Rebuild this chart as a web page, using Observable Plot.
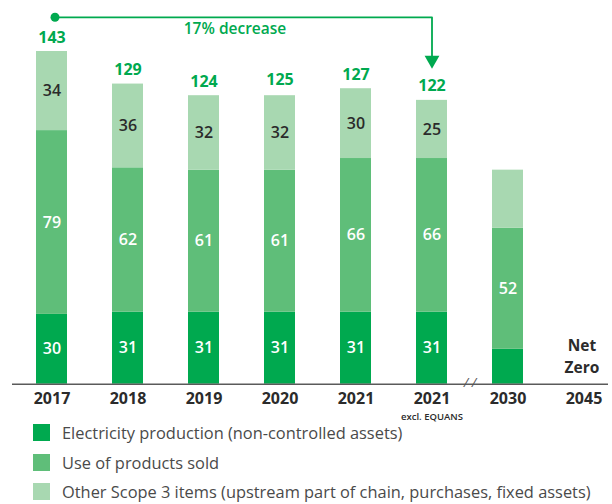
<!DOCTYPE html>
<html>
<head>
<meta charset="utf-8">
<script src="https://cdn.jsdelivr.net/npm/d3@7"></script>
<script src="https://cdn.jsdelivr.net/npm/@observablehq/plot@0.6"></script>
<style>
  body { margin: 0; background: #fff; font-family: "Open Sans", sans-serif; width: 612px; height: 504px; overflow: hidden; }
  #legend { margin: 0; padding: 0; }
  .row { height: 29.5px; display: flex; align-items: center; }
  .sw { width: 17px; height: 17px; margin-left: 33px; margin-right: 12px; flex: none; }
  .lab { font-size: 16.4px; color: #4a4a4a; white-space: nowrap; }
  svg { overflow: visible; }
</style>
</head>
<body>
<div id="chart"></div>
<div id="legend"></div>
<script>
// ---- data ----
const categories = ["2017", "2018", "2019", "2020", "2021", "2021ex", "2030", "2045"];
const tickLabels = ["2017", "2018", "2019", "2020", "2021", "2021", "2030", "2045"];
const seriesNames = [
  "Electricity production (non-controlled assets)",
  "Use of products sold",
  "Other Scope 3 items (upstream part of chain, purchases, fixed assets)"
];
const seriesColors = ["#00a94f", "#5fbe79", "#a8d8b1"];
const electricity = [30, 31, 31, 31, 31, 31, 15, 0];
const useOfProducts = [79, 62, 61, 61, 66, 66, 52, 0];
const otherScope3 = [34, 36, 32, 32, 30, 25, 25, 0];
const electricityLabels = ["30", "31", "31", "31", "31", "31", "", ""];
const useOfProductsLabels = ["79", "62", "61", "61", "66", "66", "52", ""];
const otherScope3Labels = ["34", "36", "32", "32", "30", "25", "", ""];
const totals = [143, 129, 124, 125, 127, 122, null, null];
const subLabelCat = "2021ex";
const subLabel = "excl. EQUANS";
const netZeroCat = "2045";
const netZeroLines = ["Net", "Zero"];
// decrease annotation (arrow from 2017 to 2021 excl. EQUANS)
const arrowCats = ["2017", "2021ex", "2021ex"];
const arrowValues = [157.7, 157.7, 140.5];
const arrowHeadValue = 139.3;
const annotationText = "17% decrease";
const annotationCat = "2019";
const annotationValue = 152.5;

// ---- build tables ----
const seriesValues = [electricity, useOfProducts, otherScope3];
const seriesLabels = [electricityLabels, useOfProductsLabels, otherScope3Labels];
const rows = [];
categories.forEach((c, i) => {
  seriesNames.forEach((s, k) => {
    rows.push({cat: c, series: s, k, value: seriesValues[k][i], label: seriesLabels[k][i]});
  });
});
const totalRows = categories.map((c, i) => ({cat: c, total: totals[i]})).filter(d => d.total != null);
const arrowPts = arrowCats.map((c, i) => ({cat: c, v: arrowValues[i]}));

const green = "#00a94f";
const font = "'Open Sans', sans-serif";

const chart = Plot.plot({
  width: 612,
  height: 418,
  marginLeft: 12,
  marginRight: 4,
  marginTop: 0,
  marginBottom: 0,
  style: {fontFamily: font, background: "#fff", overflow: "visible"},
  x: {domain: categories, range: [10.15, 623.75], paddingInner: 0.595, paddingOuter: 0.2975, axis: null},
  y: {domain: [0, 143], range: [383.7, 51], axis: null},
  color: {domain: seriesNames, range: seriesColors},
  marks: [
    Plot.barY(rows, {x: "cat", y: "value", fill: "series", order: null}),
    ...[0, 1, 2].map(k => Plot.text(rows, Plot.stackY({
      x: "cat", y: "value", z: "series", order: null,
      text: d => d.k === k ? d.label : "",
      fill: k === 2 ? "#2b2b2b" : "#ffffff",
      fontSize: 16, fontWeight: 600
    }))),
    Plot.text(totalRows, {x: "cat", y: "total", text: d => String(d.total), dy: -14, fill: green, fontSize: 16, fontWeight: 700}),
    Plot.ruleY([0], {stroke: "#5a5a5a", strokeWidth: 1.6}),
    Plot.text(categories, {x: d => d, y: () => 0, text: (d, i) => tickLabels[i], dy: 15, fontSize: 16, fontWeight: 700, fill: "#2b2b2b"}),
    Plot.text([subLabelCat], {x: d => d, y: () => 0, text: () => subLabel, dy: 32.5, fontSize: 9.5, fontWeight: 600, fill: "#2b2b2b"}),
    Plot.text([netZeroCat], {x: d => d, y: () => 0, text: () => netZeroLines[0], dy: -38, dx: -2, fontSize: 15.5, fontWeight: 700, fill: "#2b2b2b"}),
    Plot.text([netZeroCat], {x: d => d, y: () => 0, text: () => netZeroLines[1], dy: -16.5, dx: -2, fontSize: 15.5, fontWeight: 700, fill: "#2b2b2b"}),
    Plot.text(["2021ex"], {x: d => d, y: () => 0, text: () => "/ /", dx: 38, dy: -1, fontSize: 13, fill: "#555", fontStyle: "italic"}),
    Plot.line(arrowPts, {x: "cat", y: "v", stroke: green, strokeWidth: 1.8}),
    Plot.dot([arrowPts[0]], {x: "cat", y: "v", r: 4.5, fill: green, dx: 3}),
    Plot.dot([{cat: "2021ex", v: arrowHeadValue}], {x: "cat", y: "v", symbol: "triangle", rotate: 180, r: 5.5, fill: green, stroke: "none"}),
    Plot.text([{cat: annotationCat, v: annotationValue}], {x: "cat", y: "v", text: () => annotationText, dx: 31, fontSize: 15.5, fontWeight: 600, fill: green})
  ]
});
document.getElementById("chart").appendChild(chart);

// legend
const legend = document.getElementById("legend");
seriesNames.forEach((s, k) => {
  const row = document.createElement("div");
  row.className = "row";
  const sw = document.createElement("div");
  sw.className = "sw";
  sw.style.background = seriesColors[k];
  const lab = document.createElement("div");
  lab.className = "lab";
  lab.textContent = s;
  row.appendChild(sw);
  row.appendChild(lab);
  legend.appendChild(row);
});
</script>
</body>
</html>
